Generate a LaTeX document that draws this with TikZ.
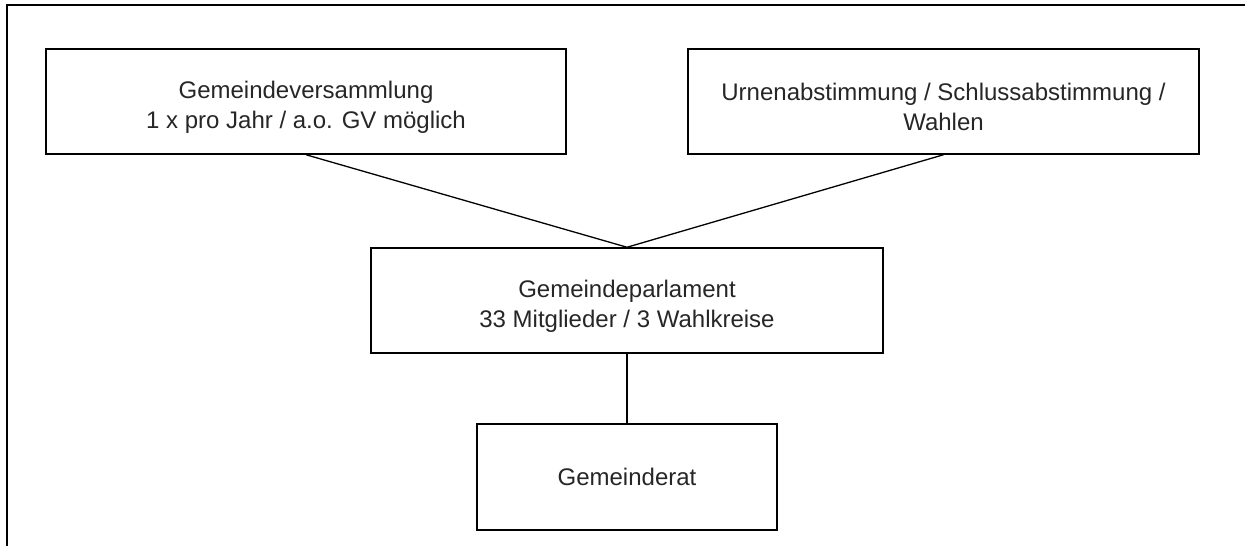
\documentclass[tikz,border=0pt]{standalone}
\usepackage{fontspec}
\setmainfont{Liberation Sans}
\newcommand{\topgap}{\rule{0pt}{28.5pt}}
\begin{document}
\begin{tikzpicture}[x=1pt,y=-1pt,
  box/.style={draw=black,line width=1.5pt,rectangle,inner sep=0pt,align=center,
    font=\fontsize{24}{29.5}\selectfont,text=black!85},
  conn/.style={draw=black,line width=1.3pt}]
\useasboundingbox (0,0) rectangle (1245,546);
\draw[line width=2pt] (7,546) coordinate (fl) -- (7,5) coordinate (fc) -- (1245,5) coordinate (fr);
\node[box,minimum width=520pt,minimum height=105pt] (b1) at (306,101.5) {\topgap Gemeindeversammlung\\1 x pro Jahr / a.o. GV möglich};
\node[box,minimum width=511pt,minimum height=105pt] (b2) at (943.5,101.5) {\topgap Urnenabstimmung / Schlussabstimmung /\\Wahlen};
\node[box,minimum width=512pt,minimum height=105pt] (b3) at (627,300.5) {\topgap Gemeindeparlament\\33 Mitglieder / 3 Wahlkreise};
\node[box,minimum width=300pt,minimum height=106pt] (b4) at (627,477) {Gemeinderat};
\draw[conn] (b1.south) -- (b3.north);
\draw[conn] (b2.south) -- (b3.north);
\draw[conn] (b3.south) -- (b4.north);
\end{tikzpicture}
\end{document}
